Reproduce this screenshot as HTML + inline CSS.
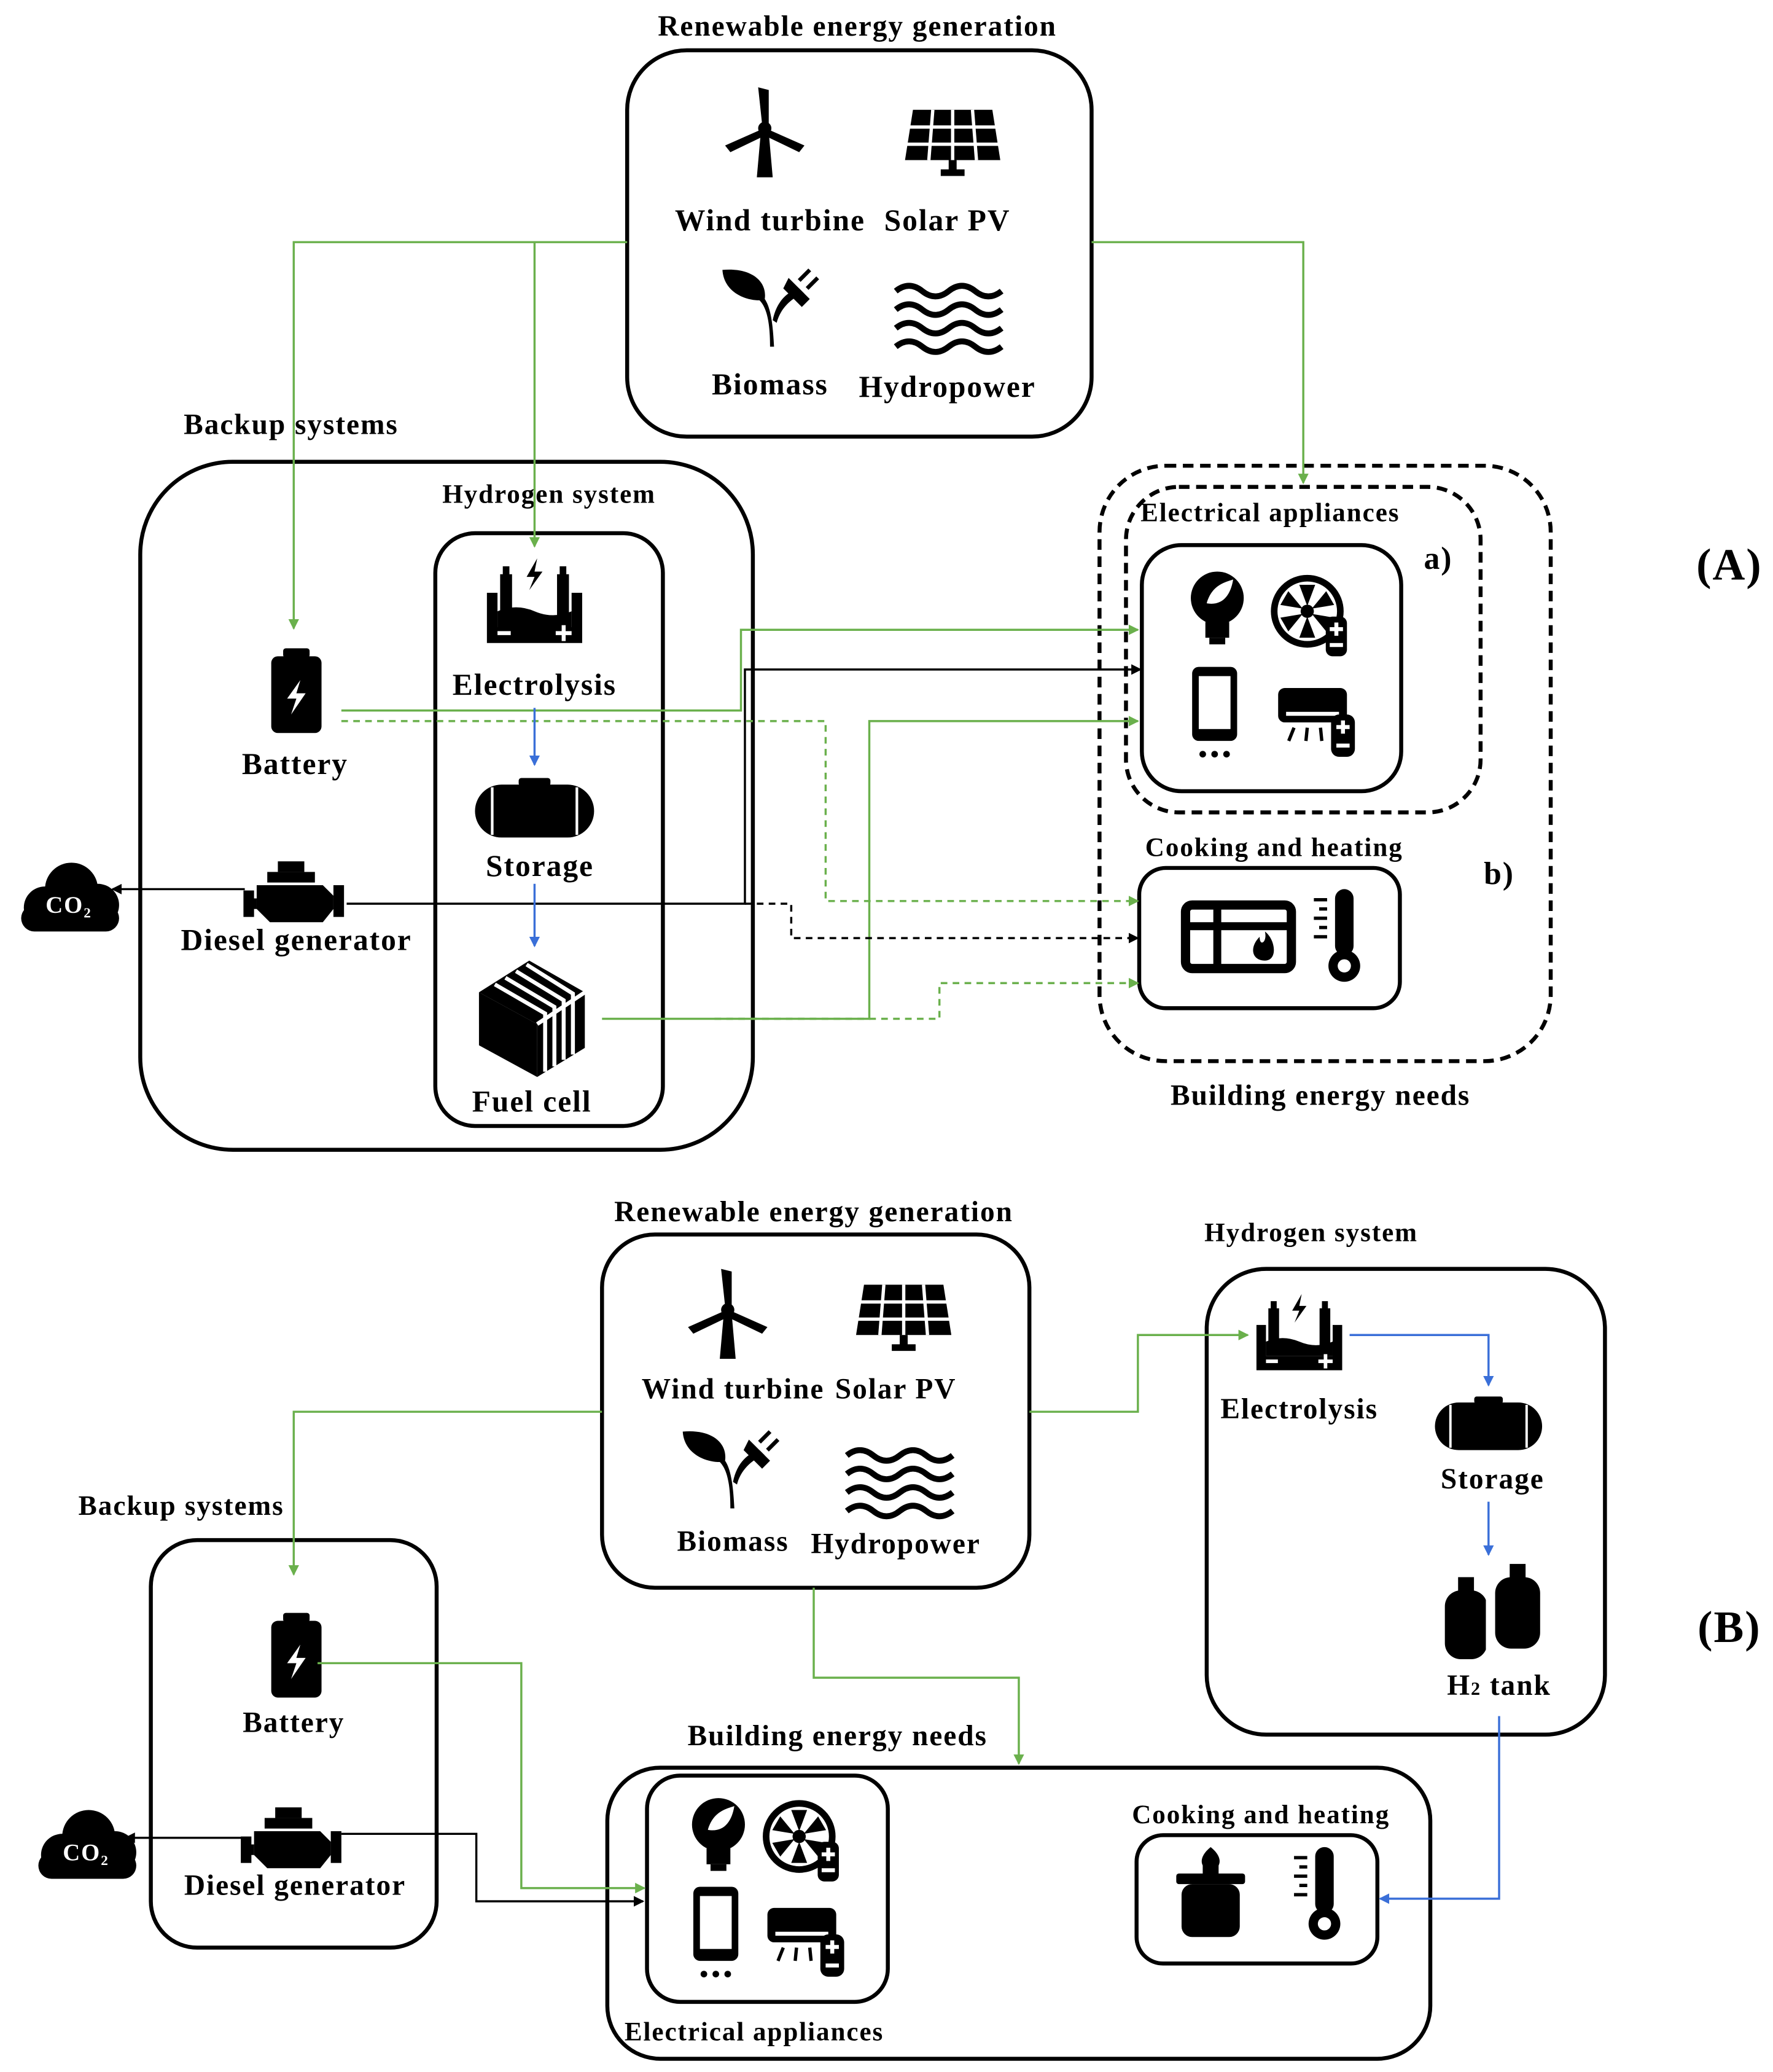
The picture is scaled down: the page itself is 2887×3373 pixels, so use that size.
<!DOCTYPE html>
<html><head><meta charset="utf-8"><style>
html,body{margin:0;padding:0;background:#fff}
svg{display:block}
text{font-family:"Liberation Serif",serif;font-weight:bold;fill:#000;letter-spacing:0.9px}
</style></head><body>
<svg width="2887" height="3373" viewBox="0 0 1340 1566" preserveAspectRatio="none" xmlns="http://www.w3.org/2000/svg">
<defs>
<marker id="ag" markerWidth="8" markerHeight="8" refX="7" refY="4" orient="auto" markerUnits="userSpaceOnUse"><path d="M0,0L8,4L0,8z" fill="#6ab04c"/></marker>
<marker id="ab" markerWidth="8" markerHeight="8" refX="7" refY="4" orient="auto" markerUnits="userSpaceOnUse"><path d="M0,0L8,4L0,8z" fill="#000"/></marker>
<marker id="au" markerWidth="8" markerHeight="8" refX="7" refY="4" orient="auto" markerUnits="userSpaceOnUse"><path d="M0,0L8,4L0,8z" fill="#3a6fd8"/></marker>
<g id="wind"><polygon points="-3,0 3,0 6,34 -6,34"/><circle cx="0" cy="-3" r="5"/><path d="M-2,-6 L-5,-34 L3,-32 L3,-6z"/><path d="M3,-2 L30,10 L26,15 L1,3z"/><path d="M-3,-2 L-30,10 L-26,15 L-1,3z"/></g>
<g id="solar"><polygon points="-30,-24 30,-24 36,14 -36,14"/><g stroke="#fff" stroke-width="2.5"><line x1="-33" y1="-11" x2="33" y2="-11"/><line x1="-35" y1="2" x2="35" y2="2"/><line x1="-15" y1="-24" x2="-18" y2="14"/><line x1="0" y1="-24" x2="0" y2="14"/><line x1="15" y1="-24" x2="18" y2="14"/></g><rect x="-3" y="14" width="6" height="8"/><rect x="-9" y="21" width="18" height="5"/></g>
<g id="leaf"><path d="M0,30 C0,10 -3,0 -8,-5 C-20,-5 -35,-12 -36,-28 C-15,-30 -2,-20 -4,-6 C0,0 2,10 3,30z"/><path d="M2,10 C5,-5 14,-12 22,-14 L26,-10 C18,-8 8,0 5,12z"/><path d="M14,-22 L30,-6 L24,0 L10,-14z"/><line x1="22" y1="-20" x2="30" y2="-28" stroke="#000" stroke-width="3"/><line x1="28" y1="-14" x2="36" y2="-22" stroke="#000" stroke-width="3"/></g>
<g id="waves" fill="none" stroke="#000" stroke-width="4.5"><path d="M-40,-22 q10,-8 20,0 t20,0 t20,0 t20,0"/><path d="M-40,-8 q10,-8 20,0 t20,0 t20,0 t20,0"/><path d="M-40,6 q10,-8 20,0 t20,0 t20,0 t20,0"/><path d="M-40,20 q10,-8 20,0 t20,0 t20,0 t20,0"/></g>
<g id="elec"><path d="M-36,-14 h8 v26 h56 v-26 h8 v38 h-72z"/><path d="M-28,0 q14,-6 28,0 t28,0 v12 h-56z"/><rect x="-26" y="-28" width="9" height="34"/><rect x="17" y="-28" width="9" height="34"/><rect x="-24" y="-34" width="5" height="7"/><rect x="19" y="-34" width="5" height="7"/><path d="M2,-40 L-6,-26 L0,-26 L-4,-16 L6,-30 L0,-30z"/><rect x="-28" y="15" width="10" height="3" fill="#fff"/><g fill="#fff"><rect x="16" y="15" width="12" height="3"/><rect x="20.5" y="10.5" width="3" height="12"/></g></g>
<g id="tank"><rect x="-45" y="-20" width="90" height="40" rx="20"/><rect x="-12" y="-25" width="24" height="6" rx="2"/><line x1="-32" y1="-18" x2="-32" y2="18" stroke="#fff" stroke-width="2"/><line x1="32" y1="-18" x2="32" y2="18" stroke="#fff" stroke-width="2"/></g>
<g id="fc"><polygon points="-40,-20 -2,-44 40,-20 4,4"/><polygon points="-40,-20 4,4 4,44 -40,20"/><polygon points="4,4 40,-20 40,22 4,44" fill="#000"/><g stroke="#fff" stroke-width="3" fill="none"><path d="M-28,-26 L10,-4 L10,40"/><path d="M-20,-31 L17,-9 L17,36"/><path d="M-12,-36 L24,-14 L24,31"/><path d="M-4,-41 L31,-19 L31,27"/><path d="M4,4 L40,-20"/></g></g>
<g id="bat"><rect x="-19" y="-26" width="38" height="58" rx="5"/><rect x="-10" y="-32" width="20" height="7" rx="2"/><path d="M3,-8 L-7,6 L0,6 L-4,18 L7,2 L0,2z" fill="#fff"/></g>
<g id="eng"><rect x="-22" y="-18" width="36" height="8"/><rect x="-14" y="-26" width="20" height="8"/><path d="M-30,-8 h50 l8,8 v10 l-8,10 h-40 l-10,-10z"/><rect x="-40" y="-4" width="8" height="20"/><rect x="28" y="-8" width="8" height="24"/><rect x="-36" y="2" width="6" height="8"/></g>
<g id="cloud"><circle cx="-18" cy="6" r="16"/><circle cx="2" cy="-8" r="20"/><circle cx="22" cy="4" r="16"/><rect x="-36" y="4" width="74" height="20" rx="10"/></g>
<g id="bulb"><circle cx="0" cy="-8" r="20"/><rect x="-9" y="10" width="18" height="12"/><rect x="-6" y="22" width="12" height="5"/><path d="M-8,-4 C-4,-18 6,-20 12,-22 C10,-10 4,-2 -8,-4z" fill="#fff"/></g>
<g id="fan"><circle cx="0" cy="0" r="25" fill="none" stroke="#000" stroke-width="5"/><circle cx="0" cy="0" r="5"/><g><path d="M0,-4 L-6,-20 L6,-20z"/><path d="M0,-4 L-6,-20 L6,-20z" transform="rotate(60)"/><path d="M0,-4 L-6,-20 L6,-20z" transform="rotate(120)"/><path d="M0,-4 L-6,-20 L6,-20z" transform="rotate(180)"/><path d="M0,-4 L-6,-20 L6,-20z" transform="rotate(240)"/><path d="M0,-4 L-6,-20 L6,-20z" transform="rotate(300)"/></g><rect x="14" y="4" width="16" height="30" rx="5"/><g fill="#fff"><rect x="17" y="12" width="10" height="3"/><rect x="20.5" y="8.5" width="3" height="10"/><rect x="17" y="24" width="10" height="3"/></g></g>
<g id="phone"><rect x="-17" y="-32" width="34" height="56" rx="5"/><rect x="-12" y="-25" width="24" height="40" fill="#fff"/><circle cx="-9" cy="34" r="2.5"/><circle cx="0" cy="34" r="2.5"/><circle cx="9" cy="34" r="2.5"/></g>
<g id="ac"><rect x="-28" y="-20" width="52" height="26" rx="5"/><rect x="-22" y="-2" width="40" height="3" fill="#fff"/><g stroke="#000" stroke-width="2.5"><line x1="-16" y1="10" x2="-20" y2="20"/><line x1="-6" y1="10" x2="-7" y2="20"/><line x1="4" y1="10" x2="5" y2="20"/><line x1="14" y1="10" x2="18" y2="20"/></g><rect x="12" y="0" width="18" height="32" rx="6"/><g fill="#fff"><rect x="16" y="8" width="10" height="3"/><rect x="19.5" y="4.5" width="3" height="10"/><rect x="16" y="22" width="10" height="3"/></g></g>
<g id="stove"><rect x="-40" y="-24" width="80" height="48" rx="5" fill="none" stroke="#000" stroke-width="7"/><line x1="-40" y1="-8" x2="40" y2="-8" stroke="#000" stroke-width="6"/><line x1="-16" y1="-24" x2="-16" y2="24" stroke="#000" stroke-width="6"/><path d="M20,18 c-10,0 -12,-10 -4,-18 c0,8 6,4 4,-4 c8,6 10,22 0,22z"/></g>
<g id="thermo"><rect x="-6" y="-36" width="14" height="50" rx="7"/><circle cx="1" cy="22" r="12"/><g stroke="#000" stroke-width="2.5"><line x1="-22" y1="-28" x2="-12" y2="-28"/><line x1="-18" y1="-21" x2="-12" y2="-21"/><line x1="-22" y1="-14" x2="-12" y2="-14"/><line x1="-18" y1="-7" x2="-12" y2="-7"/><line x1="-22" y1="0" x2="-12" y2="0"/></g><circle cx="1" cy="22" r="5" fill="#fff"/></g>
<g id="gas"><rect x="-22" y="-6" width="44" height="40" rx="8"/><rect x="-26" y="-14" width="52" height="8" rx="2"/><path d="M0,-34 c-10,8 -8,16 0,18 c8,-2 10,-10 0,-18z"/><rect x="-6" y="-22" width="12" height="10"/></g>
<g id="h2"><rect x="-38" y="-14" width="32" height="52" rx="12"/><rect x="-28" y="-24" width="12" height="12"/><rect x="0" y="-24" width="34" height="54" rx="12"/><rect x="11" y="-34" width="12" height="12"/><line x1="-6" y1="-10" x2="-6" y2="38" stroke="#fff" stroke-width="2"/></g>
</defs>

<!-- ============ PART A ============ -->
<g font-size="23" text-anchor="middle">
<text x="648" y="27" font-size="22">Renewable energy generation</text>
<rect x="474" y="38" width="351" height="292" rx="45" fill="none" stroke="#000" stroke-width="3"/>
<use href="#wind" x="578" y="100"/><use href="#solar" x="720" y="107"/>
<use href="#leaf" x="582" y="232"/><use href="#waves" x="717" y="242"/>
<text x="582" y="174">Wind turbine</text><text x="716" y="174">Solar PV</text>
<text x="582" y="298">Biomass</text><text x="716" y="300">Hydropower</text>

<text x="220" y="328" font-size="22">Backup systems</text>
<rect x="106" y="349" width="463" height="520" rx="70" fill="none" stroke="#000" stroke-width="3"/>
<text x="415" y="380" font-size="20">Hydrogen system</text>
<rect x="329" y="403" width="172" height="448" rx="30" fill="none" stroke="#000" stroke-width="3"/>
<use href="#elec" x="404" y="462"/><text x="404" y="525">Electrolysis</text>
<use href="#tank" x="404" y="613"/><text x="408" y="662">Storage</text>
<use href="#fc" x="402" y="770"/><text x="402" y="840">Fuel cell</text>
<use href="#bat" x="224" y="522"/><text x="223" y="585">Battery</text>
<use href="#eng" x="224" y="677"/><text x="224" y="718">Diesel generator</text>
<use href="#cloud" x="52" y="680"/><text x="52" y="690" font-size="18" style="fill:#fff">CO₂</text>

<rect x="831" y="352" width="341" height="450" rx="50" fill="none" stroke="#000" stroke-width="3" stroke-dasharray="8,5"/>
<rect x="851" y="368" width="268" height="246" rx="40" fill="none" stroke="#000" stroke-width="3" stroke-dasharray="8,5"/>
<text x="960" y="394" font-size="20">Electrical appliances</text>
<rect x="863" y="412" width="196" height="186" rx="30" fill="none" stroke="#000" stroke-width="3"/>
<use href="#bulb" x="920" y="460"/><use href="#fan" x="988" y="462"/>
<use href="#phone" x="918" y="536"/><use href="#ac" x="994" y="540"/>
<text x="1087" y="430" font-size="24">a)</text>
<text x="963" y="647" font-size="20">Cooking and heating</text>
<rect x="861" y="656" width="197" height="106" rx="20" fill="none" stroke="#000" stroke-width="3"/>
<use href="#stove" x="936" y="708"/><use href="#thermo" x="1015" y="708"/>
<text x="1133" y="668" font-size="24">b)</text>
<text x="998" y="835" font-size="22">Building energy needs</text>
<text x="1307" y="438" font-size="34">(A)</text>
</g>
<g fill="none" stroke-width="1.6">
<path d="M474,183 H222 V475" stroke="#6ab04c" marker-end="url(#ag)"/>
<path d="M404,183 V413" stroke="#6ab04c" marker-end="url(#ag)"/>
<path d="M825,183 H985 V365" stroke="#6ab04c" marker-end="url(#ag)"/>
<path d="M258,537 H560 V476 H860" stroke="#6ab04c" marker-end="url(#ag)"/>
<path d="M455,770 H657 V545 H860" stroke="#6ab04c" marker-end="url(#ag)"/>
<path d="M258,545 H624 V681 H860" stroke="#6ab04c" stroke-dasharray="5,4" marker-end="url(#ag)"/>
<path d="M540,770 H710 V743 H860" stroke="#6ab04c" stroke-dasharray="5,4" marker-end="url(#ag)"/>
<path d="M262,683 H563 V506 H862" stroke="#000" marker-end="url(#ab)"/>
<path d="M563,683 H598 V709 H860" stroke="#000" stroke-dasharray="5,4" marker-end="url(#ab)"/>
<path d="M185,672 H85" stroke="#000" marker-end="url(#ab)"/>
<path d="M404,535 V578" stroke="#3a6fd8" marker-end="url(#au)"/>
<path d="M404,668 V715" stroke="#3a6fd8" marker-end="url(#au)"/>
</g>

<!-- ============ PART B ============ -->
<g font-size="22" text-anchor="middle">
<text x="615" y="923" font-size="22">Renewable energy generation</text>
<rect x="455" y="933" width="323" height="267" rx="40" fill="none" stroke="#000" stroke-width="3"/>
<use href="#wind" x="550" y="993"/><use href="#solar" x="683" y="995"/>
<use href="#leaf" x="552" y="1110"/><use href="#waves" x="680" y="1122"/>
<text x="554" y="1057">Wind turbine</text><text x="677" y="1057">Solar PV</text>
<text x="554" y="1172">Biomass</text><text x="677" y="1174">Hydropower</text>

<text x="991" y="938" font-size="20">Hydrogen system</text>
<rect x="912" y="959" width="301" height="352" rx="45" fill="none" stroke="#000" stroke-width="3"/>
<use href="#elec" x="982" y="1014" transform="translate(982 1014) scale(0.9) translate(-982 -1014)"/>
<text x="982" y="1072">Electrolysis</text>
<use href="#tank" x="1125" y="1078" transform="translate(1125 1078) scale(0.9) translate(-1125 -1078)"/>
<text x="1128" y="1125">Storage</text>
<use href="#h2" x="1130" y="1216"/>
<text x="1133" y="1281">H<tspan font-size="14">2</tspan> tank</text>

<text x="137" y="1145" font-size="21">Backup systems</text>
<rect x="114" y="1164" width="216" height="308" rx="35" fill="none" stroke="#000" stroke-width="3"/>
<use href="#bat" x="224" y="1251"/><text x="222" y="1309">Battery</text>
<use href="#eng" x="222" y="1392"/><text x="223" y="1432">Diesel generator</text>
<use href="#cloud" x="65" y="1396"/><text x="65" y="1406" font-size="18" style="fill:#fff">CO₂</text>

<text x="633" y="1319">Building energy needs</text>
<rect x="459" y="1336" width="622" height="220" rx="40" fill="none" stroke="#000" stroke-width="3"/>
<rect x="489" y="1342" width="182" height="171" rx="25" fill="none" stroke="#000" stroke-width="3"/>
<use href="#bulb" x="543" y="1387"/><use href="#fan" x="604" y="1388"/>
<use href="#phone" x="541" y="1458"/><use href="#ac" x="608" y="1462"/>
<text x="570" y="1542" font-size="20">Electrical appliances</text>
<text x="953" y="1378" font-size="20">Cooking and heating</text>
<rect x="859" y="1387" width="182" height="97" rx="20" fill="none" stroke="#000" stroke-width="3"/>
<use href="#gas" x="915" y="1430"/><use href="#thermo" x="1000" y="1432"/>
<text x="1307" y="1241" font-size="34">(B)</text>
</g>
<g fill="none" stroke-width="1.6">
<path d="M455,1067 H222 V1190" stroke="#6ab04c" marker-end="url(#ag)"/>
<path d="M778,1067 H860 V1009 H943" stroke="#6ab04c" marker-end="url(#ag)"/>
<path d="M615,1200 V1268 H770 V1333" stroke="#6ab04c" marker-end="url(#ag)"/>
<path d="M240,1257 H394 V1427 H487" stroke="#6ab04c" marker-end="url(#ag)"/>
<path d="M258,1386 H360 V1437 H486" stroke="#000" marker-end="url(#ab)"/>
<path d="M188,1389 H95" stroke="#000" marker-end="url(#ab)"/>
<path d="M1020,1009 H1125 V1047" stroke="#3a6fd8" marker-end="url(#au)"/>
<path d="M1125,1135 V1175" stroke="#3a6fd8" marker-end="url(#au)"/>
<path d="M1133,1297 V1435 H1043" stroke="#3a6fd8" marker-end="url(#au)"/>
</g>
</svg>
</body></html>
